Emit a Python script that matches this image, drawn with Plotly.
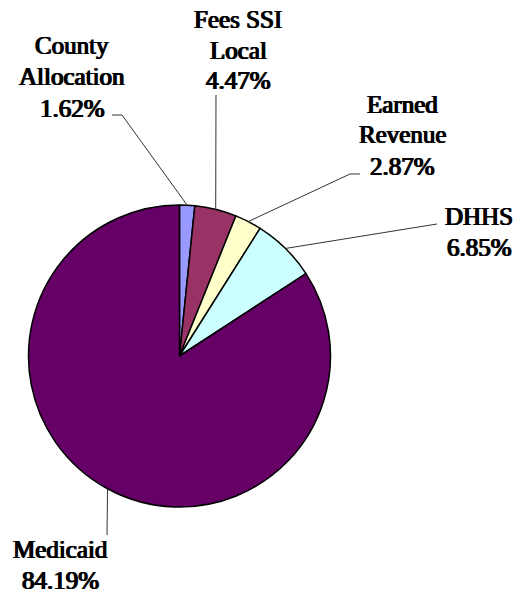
import math
import plotly.graph_objects as go

# Funding sources and their share of the total (percent)
labels = ["County Allocation", "Fees SSI Local", "Earned Revenue", "DHHS", "Medicaid"]
label_lines = [["County", "Allocation"], ["Fees SSI", "Local"], ["Earned", "Revenue"], ["DHHS"], ["Medicaid"]]
shares = [1.62, 4.47, 2.87, 6.85, 84.19]
colors = ["#9999FF", "#993366", "#FFFFCC", "#CCFFFF", "#660066"]

W, H = 520, 595
CX, CY, R = 179.5, 356.0, 151.0  # pie centre and radius in pixels
LINE_H = 31  # label line spacing in pixels

# Label block centres (pixels) and leader-line elbow points
label_pos = [(72, 77), (238, 50), (402, 135), (479, 232), (60, 565)]
elbows = [
    [(122, 115), (112, 115)],
    [(216, 95)],
    [(350, 174), (360, 174)],
    [(437, 224)],
    [(107, 535)],
]

fig = go.Figure(go.Pie(
    values=shares,
    labels=labels,
    sort=False,
    direction="clockwise",
    rotation=0,
    textinfo="none",
    hoverinfo="label+percent",
    showlegend=False,
    marker=dict(colors=colors, line=dict(color="black", width=1.5)),
    domain=dict(x=[(CX - R) / W, (CX + R) / W], y=[1 - (CY + R) / H, 1 - (CY - R) / H]),
))


def to_paper(x, y):
    return x / W, 1 - y / H


total = sum(shares)
cum = 0.0
for i, v in enumerate(shares):
    mid = (cum + v / 2) / total * 2 * math.pi
    cum += v
    ex = CX + R * math.sin(mid)
    ey = CY - R * math.cos(mid)
    pts = [(ex, ey)] + elbows[i]
    path = " ".join(("M" if k == 0 else "L") + " %.5f,%.5f" % to_paper(*p) for k, p in enumerate(pts))
    fig.add_shape(type="path", xref="paper", yref="paper", path=path,
                  line=dict(color="#333333", width=1))

    lines = label_lines[i] + [f"{v:.2f}%"]
    cx_lbl, cy_lbl = label_pos[i]
    top = cy_lbl - LINE_H * (len(lines) - 1) / 2
    for j, s in enumerate(lines):
        lx, ly = to_paper(cx_lbl, top + j * LINE_H)
        fig.add_annotation(
            x=lx, y=ly, xref="paper", yref="paper",
            text=s, showarrow=False,
            xanchor="center", yanchor="middle",
            font=dict(family="Liberation Serif", size=25, color="black",
                      shadow="0.7px 0 0 black, -0.7px 0 0 black"),
        )

fig.update_layout(
    width=W, height=H,
    margin=dict(l=0, r=0, t=0, b=0),
    paper_bgcolor="white", plot_bgcolor="white",
)

fig.write_html("out.html")
